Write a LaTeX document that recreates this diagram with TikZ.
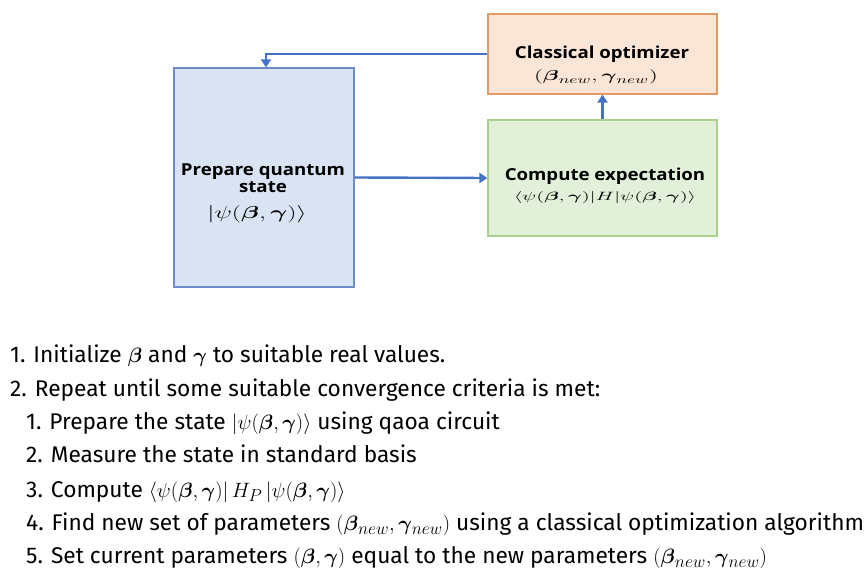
\documentclass[tikz,border=0pt]{standalone}
\usepackage{amsmath}
\usepackage{amssymb}
\usepackage{graphicx}
\usepackage{fontspec}
\setmainfont{Fira Sans}
\newfontfamily\boxfont[FakeStretch=1.13]{Open Sans}
\usepackage{tikz}
\usetikzlibrary{arrows.meta}

\definecolor{arrowblue}{HTML}{4472C4}
\definecolor{prepfill}{HTML}{DAE3F3}
\definecolor{prepline}{HTML}{6F8CC8}
\definecolor{optfill}{HTML}{FBE5D6}
\definecolor{optline}{HTML}{E59A66}
\definecolor{expfill}{HTML}{E2F0D9}
\definecolor{expline}{HTML}{A9D18E}

\newcommand{\bb}{\boldsymbol{\beta}}
\newcommand{\bg}{\boldsymbol{\gamma}}

\begin{document}
\begin{tikzpicture}[x=1pt,y=-1pt,
  block/.style={rectangle,draw,line width=1.2pt,inner sep=0pt},
  boxtext/.style={font=\boxfont\bfseries\fontsize{16.5}{17}\selectfont,align=center,inner sep=0pt},
  boxmath/.style={inner sep=0pt},
  listline/.style={anchor=base west,inner sep=0pt,font=\fontsize{22.7}{26}\selectfont},
  flow/.style={draw=arrowblue,line width=2.4pt,-{Triangle[length=8pt,width=10pt]}}]

  \useasboundingbox (0,0) rectangle (868,586);

  % blocks
  \node[block,fill=prepfill,draw=prepline,minimum width=180,minimum height=219] (prep) at (264,177.5) {};
  \node[block,fill=optfill,draw=optline,minimum width=229,minimum height=80] (optim) at (602.5,54) {};
  \node[block,fill=expfill,draw=expline,minimum width=229,minimum height=116] (expect) at (602.5,178) {};

  % block texts
  \node[boxtext] (preptxt) at (263,178.5) {Prepare quantum\\state};
  \node[boxmath,font=\fontsize{17}{18}\selectfont] (prepmath) at (257,214) {\scalebox{1.5}[1]{$|\psi(\bb,\bg)\rangle$}};
  \node[boxtext] (opttxt) at (602,54) {Classical optimizer};
  \node[boxmath,font=\fontsize{15}{18}\selectfont] (optmath) at (596,77) {\scalebox{1.6}[1]{$(\bb_{new},\bg_{new})$}};
  \node[boxtext] (exptxt) at (605,176.5) {Compute expectation};
  \node[boxmath,font=\fontsize{12.5}{13}\selectfont] (expmath) at (605,197) {\scalebox{1.75}[1]{$\langle\psi(\bb,\bg)|H|\psi(\bb,\bg)\rangle$}};

  % arrows
  \draw[flow] (optim.west) -| ([xshift=2pt]prep.north);
  \draw[flow] (prep.east) -- (expect.west);
  \draw[flow] (expect.north) -- (optim.south);

  % algorithm
  \node[listline] (l1) at (10,362) {1. Initialize $\bb$ and $\bg$ to suitable real values.};
  \node[listline] (l2) at (10,396) {2. Repeat until some suitable convergence criteria is met:};
  \node[listline] (l3) at (26,429) {1. Prepare the state $\left|\psi(\bb,\bg)\right\rangle$ using qaoa circuit};
  \node[listline] (l4) at (26,462) {2. Measure the state in standard basis};
  \node[listline] (l5) at (26,497) {3. Compute $\left\langle\psi(\bb,\bg)\right|H_P\left|\psi(\bb,\bg)\right\rangle$};
  \node[listline] (l6) at (26,530) {4. Find new set of parameters $\left(\bb_{new},\bg_{new}\right)$ using a classical optimization algorithm};
  \node[listline] (l7) at (26,563) {5. Set current parameters $\left(\bb,\bg\right)$ equal to the new parameters $\left(\bb_{new},\bg_{new}\right)$};
\end{tikzpicture}
\end{document}
